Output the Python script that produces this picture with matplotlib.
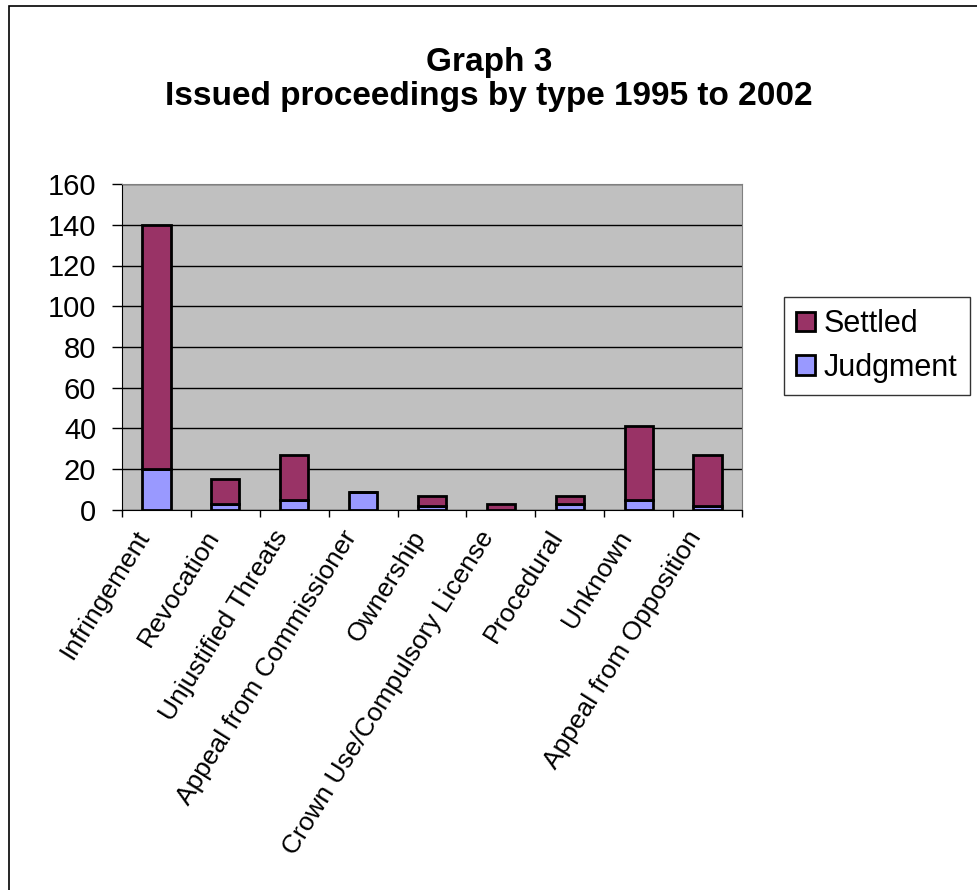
import numpy as np
import matplotlib.pyplot as plt
from matplotlib.patches import Rectangle

plt.rcParams['font.family'] = ['Liberation Sans', 'DejaVu Sans']

categories = ['Infringement', 'Revocation', 'Unjustified Threats',
              'Appeal from Commissioner', 'Ownership',
              'Crown Use/Compulsory License', 'Procedural', 'Unknown',
              'Appeal from Opposition']
judgment = [20, 3, 5, 9, 2, 0, 3, 5, 2]
settled = [120, 12, 22, 0, 5, 3, 4, 36, 25]
y_ticks = [0, 20, 40, 60, 80, 100, 120, 140, 160]

fig = plt.figure(figsize=(9.78, 8.90), dpi=100)
# chart border, only the top and left edges fall inside the canvas
fig.patches.append(Rectangle((9 / 978, -0.1), 1.2, 1.1 - 6 / 890,
                             transform=fig.transFigure, fill=False,
                             edgecolor='black', linewidth=1.2))

ax = fig.add_axes([122 / 978, 1 - 510 / 890, 620 / 978, 326 / 890])
ax.set_facecolor('#C0C0C0')

x = np.arange(len(categories))
w = 0.41
ax.bar(x, judgment, w, color='#9999FF', edgecolor='black', linewidth=2,
       label='Judgment', zorder=3)
ax.bar(x, settled, w, bottom=judgment, color='#993366', edgecolor='black',
       linewidth=2, label='Settled', zorder=3)

ax.set_xlim(-0.5, len(categories) - 0.5)
ax.set_ylim(0, 160)
ax.set_yticks(y_ticks)
ax.tick_params(axis='y', labelsize=21, length=7.5, width=1, pad=11)
ax.yaxis.grid(True, color='black', linewidth=1)
ax.set_axisbelow(True)

ax.set_xticks(np.arange(len(categories) + 1) - 0.5)
ax.set_xticklabels([])
ax.tick_params(axis='x', length=5, width=1)
for i, name in enumerate(categories):
    ax.text(i - 0.32, -8, name, rotation=58, ha='right', va='top',
            rotation_mode='anchor', fontsize=19)

for side in ['top', 'right']:
    ax.spines[side].set_color('#808080')
ax.spines['left'].set_color('black')
ax.spines['bottom'].set_color('black')

fig.text(0.5, 1 - 62 / 890, 'Graph 3', ha='center', va='center',
         fontsize=24, fontweight='bold')
fig.text(0.5, 1 - 97 / 890, 'Issued proceedings by type 1995 to 2002',
         ha='center', va='center', fontsize=24, fontweight='bold')

handles, labels = ax.get_legend_handles_labels()
leg = fig.legend(handles[::-1], labels[::-1], loc='center left',
                 bbox_to_anchor=(784 / 978, 1 - 346 / 890), fontsize=22,
                 frameon=True, fancybox=False, edgecolor='black',
                 handlelength=0.6, handleheight=0.6, handletextpad=0.3,
                 borderpad=0.4, labelspacing=0.45, borderaxespad=0)
leg.get_frame().set_linewidth(1)

fig.savefig('out.png', dpi=100)
